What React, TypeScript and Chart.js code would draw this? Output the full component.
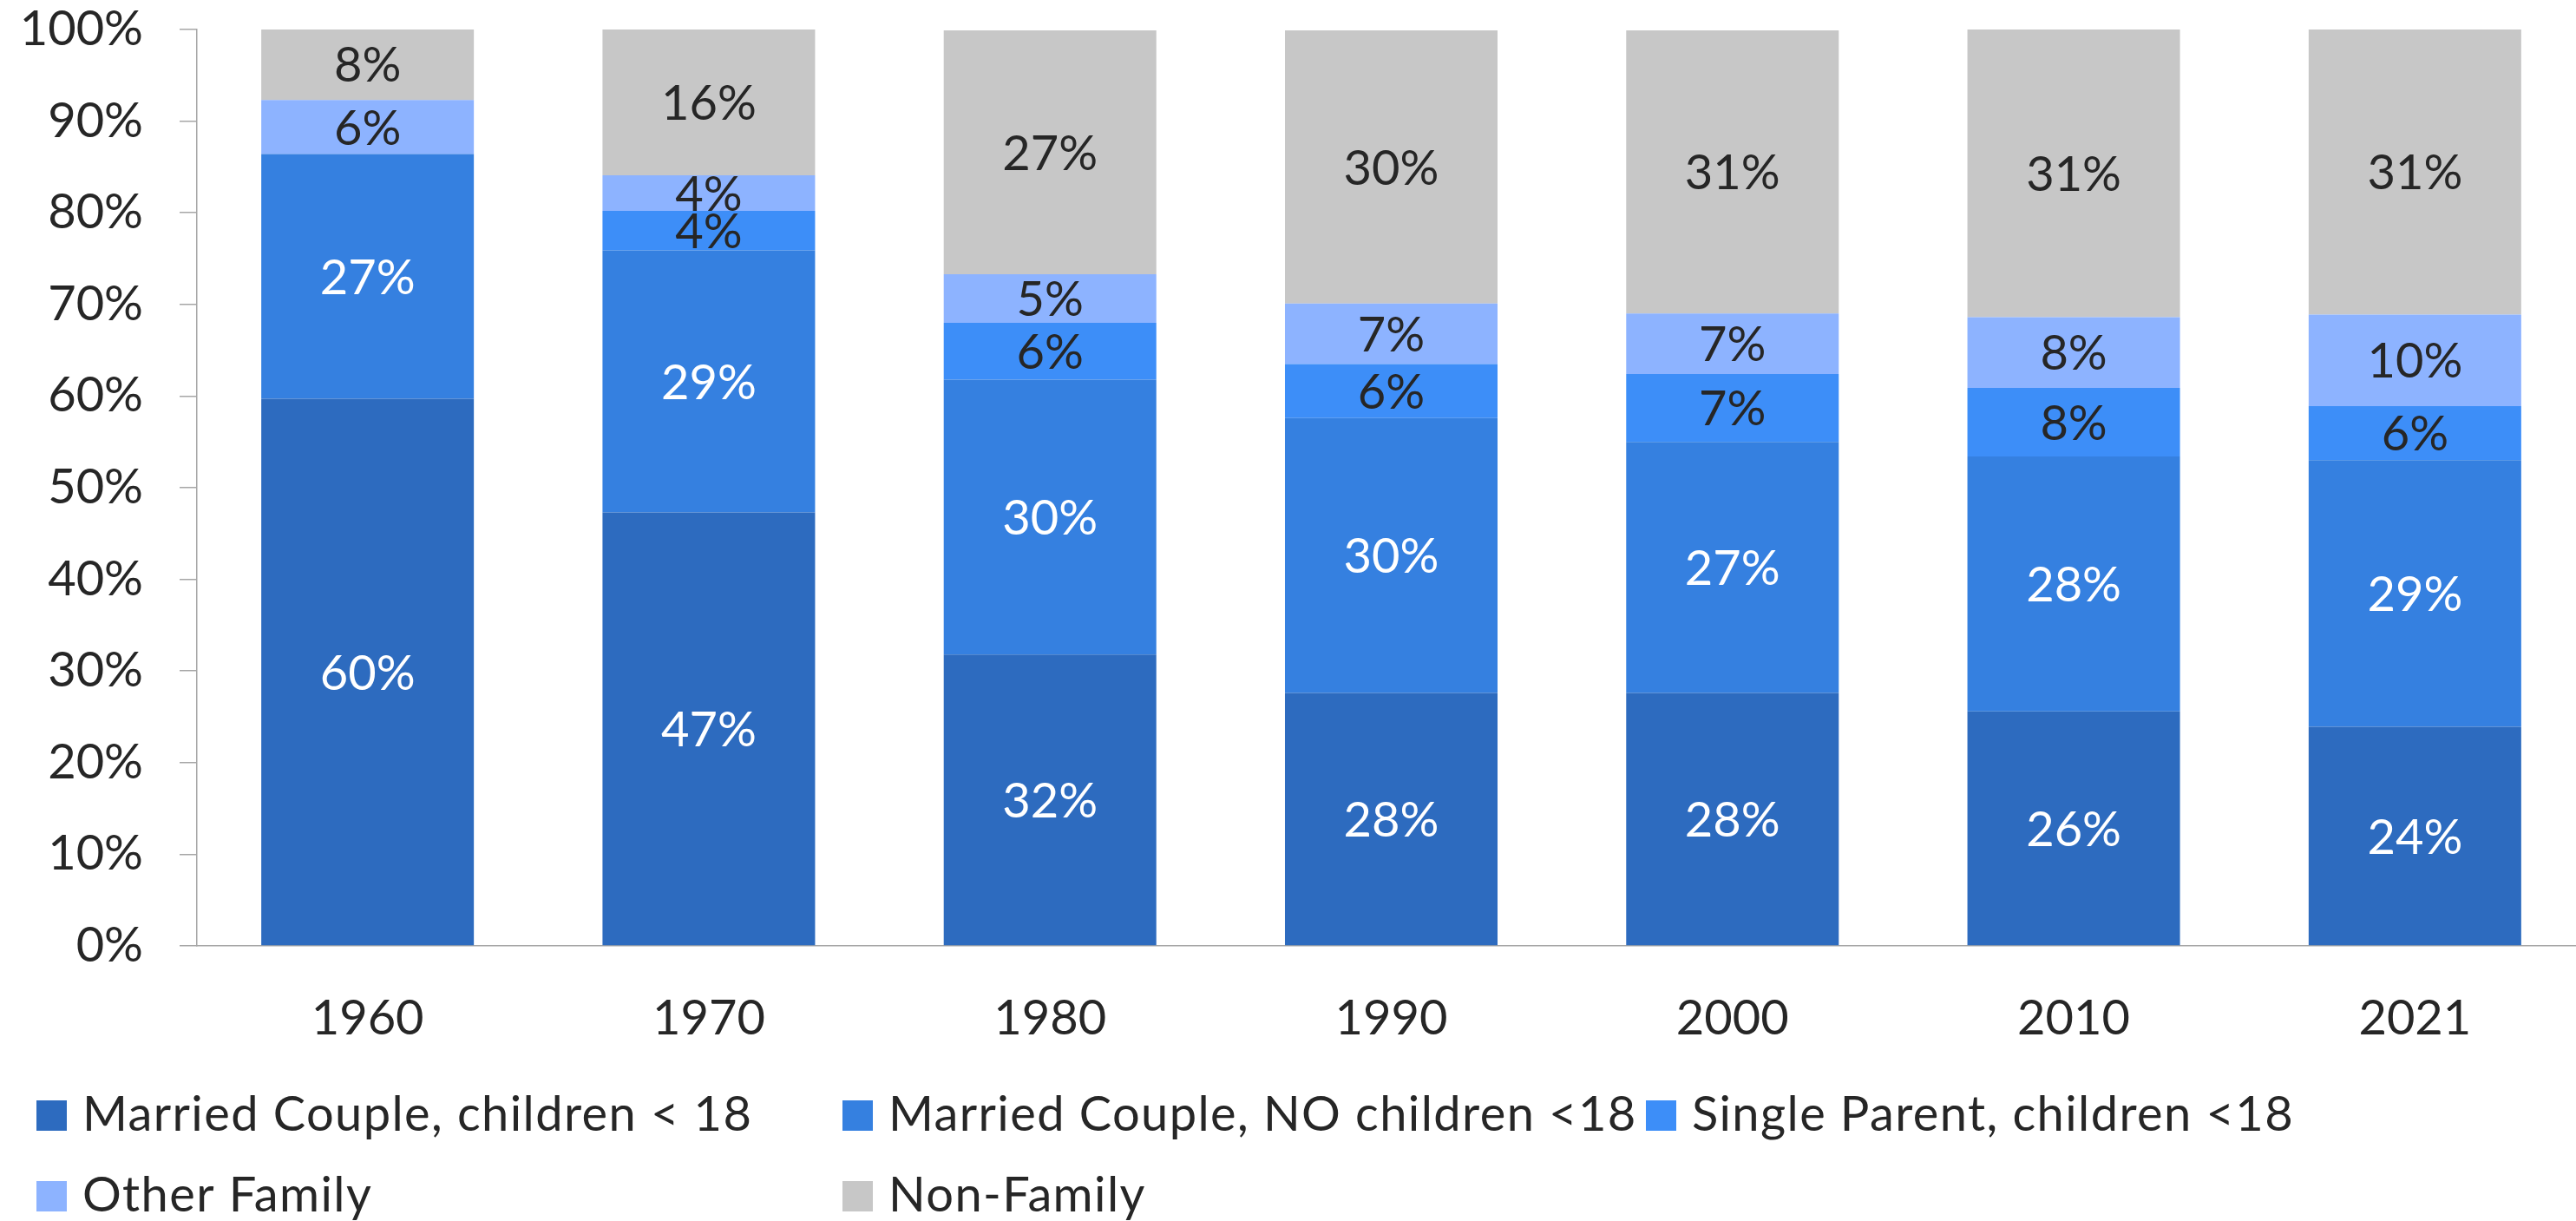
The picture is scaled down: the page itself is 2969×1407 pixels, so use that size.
import React, { useEffect, useRef } from 'react';
import { Chart, registerables } from 'chart.js';

Chart.register(...registerables);

// ---- data ----
const categories = ['1960', '1970', '1980', '1990', '2000', '2010', '2021'];
const marriedWithKids = [59.7, 47.3, 31.8, 27.6, 27.6, 25.6, 23.9];
const marriedNoKids = [26.7, 28.6, 30.0, 30.0, 27.4, 27.8, 29.1];
const singleParent = [0, 4.3, 6.2, 5.9, 7.4, 7.5, 5.9];
const otherFamily = [5.9, 3.9, 5.3, 6.6, 6.6, 7.7, 10.0];
const nonFamily = [7.8, 15.9, 26.6, 29.8, 30.9, 31.4, 31.1];
const seriesNames = [
  'Married Couple, children < 18',
  'Married Couple, NO children <18',
  'Single Parent, children <18',
  'Other Family',
  'Non-Family',
];
const yMin = 0;
const yMax = 100;
const yStep = 10;

// ---- styles ----
const seriesColors = ['#2D6BBF', '#3580E0', '#3D8EF8', '#8DB3FF', '#C7C7C7'];
const labelColors = ['#FFFFFF', '#FFFFFF', '#262626', '#262626', '#262626'];
const FONT_FAMILY = 'Lato, "Open Sans", sans-serif';
const FONT_SIZE = 56;
const TEXT_COLOR = '#262626';
const AXIS_COLOR = '#A6A6A6';

const CANVAS_W = 2990;
const CANVAS_H = 1407;

const segmentLabels = {
  id: 'segmentLabels',
  afterDatasetsDraw(chart: any) {
    const ctx = chart.ctx;
    ctx.save();
    ctx.font = `${FONT_SIZE}px ${FONT_FAMILY}`;
    ctx.textAlign = 'center';
    ctx.textBaseline = 'alphabetic';
    chart.data.datasets.forEach((ds: any, di: number) => {
      const meta = chart.getDatasetMeta(di);
      meta.data.forEach((bar: any, i: number) => {
        const v = ds.data[i];
        if (!v) return;
        const { x, y, base } = bar.getProps(['x', 'y', 'base'], true);
        const cy = (y + base) / 2;
        ctx.fillStyle = labelColors[di];
        ctx.fillText(`${Math.round(v)}%`, x, cy + FONT_SIZE * 0.36);
      });
    });
    ctx.restore();
  },
};

const gridLegend = {
  id: 'gridLegend',
  afterDraw(chart: any) {
    const ctx = chart.ctx;
    const cols = [42, 971, 1897];
    const rows = [1303, 1396]; // baselines / square bottoms
    const box = 35;
    ctx.save();
    ctx.font = `${FONT_SIZE}px ${FONT_FAMILY}`;
    ctx.textAlign = 'left';
    ctx.textBaseline = 'alphabetic';
    try {
      (ctx as any).letterSpacing = '1.4px';
    } catch (e) {
      /* ignore */
    }
    chart.data.datasets.forEach((ds: any, i: number) => {
      const col = i % 3;
      const row = Math.floor(i / 3);
      const x = cols[col];
      const yb = rows[row];
      ctx.fillStyle = ds.backgroundColor;
      ctx.fillRect(x, yb - box, box, box);
      ctx.fillStyle = TEXT_COLOR;
      ctx.fillText(ds.label, x + box + 18, yb);
    });
    ctx.restore();
  },
};

export default function App() {
  const canvasRef = useRef<HTMLCanvasElement | null>(null);

  useEffect(() => {
    const canvas = canvasRef.current;
    if (!canvas) return;
    const seriesData = [marriedWithKids, marriedNoKids, singleParent, otherFamily, nonFamily];
    const chart = new Chart(canvas, {
      type: 'bar',
      data: {
        labels: categories,
        datasets: seriesData.map((d, i) => ({
          label: seriesNames[i],
          data: d,
          backgroundColor: seriesColors[i],
          borderWidth: 0,
          barPercentage: 0.623,
          categoryPercentage: 1,
        })),
      },
      options: {
        responsive: false,
        maintainAspectRatio: false,
        devicePixelRatio: 1,
        animation: false,
        layout: { padding: { left: 0, top: 34, right: 10, bottom: 0 } },
        plugins: {
          legend: { display: false },
          tooltip: { enabled: false },
          title: { display: false },
        },
        scales: {
          x: {
            stacked: true,
            grid: { display: false, drawTicks: false },
            border: { display: true, color: AXIS_COLOR, width: 1.5 },
            ticks: {
              color: TEXT_COLOR,
              font: { family: FONT_FAMILY, size: FONT_SIZE },
              padding: 50,
              maxRotation: 0,
              autoSkip: false,
            },
            afterFit: (scale: any) => {
              scale.height = CANVAS_H - 1090;
            },
          },
          y: {
            stacked: true,
            min: yMin,
            max: yMax,
            grid: {
              display: true,
              drawOnChartArea: false,
              drawTicks: true,
              tickLength: 20,
              color: AXIS_COLOR,
              lineWidth: 1.5,
            },
            border: { display: true, color: AXIS_COLOR, width: 1.5 },
            ticks: {
              stepSize: yStep,
              color: TEXT_COLOR,
              font: { family: FONT_FAMILY, size: FONT_SIZE },
              padding: 42,
              callback: (v: any) => `${v}%`,
            },
            afterFit: (scale: any) => {
              scale.width = 227;
              scale.paddingTop = 0;
              scale.paddingBottom = 0;
            },
          },
        },
      },
      plugins: [segmentLabels, gridLegend],
    });
    return () => {
      chart.destroy();
    };
  }, []);

  return (
    <div
      style={{
        position: 'fixed',
        left: 0,
        top: 0,
        width: 2969,
        height: CANVAS_H,
        overflow: 'hidden',
        background: '#FFFFFF',
      }}
    >
      <canvas
        ref={canvasRef}
        width={CANVAS_W}
        height={CANVAS_H}
        style={{ display: 'block', width: CANVAS_W, height: CANVAS_H }}
      />
    </div>
  );
}
